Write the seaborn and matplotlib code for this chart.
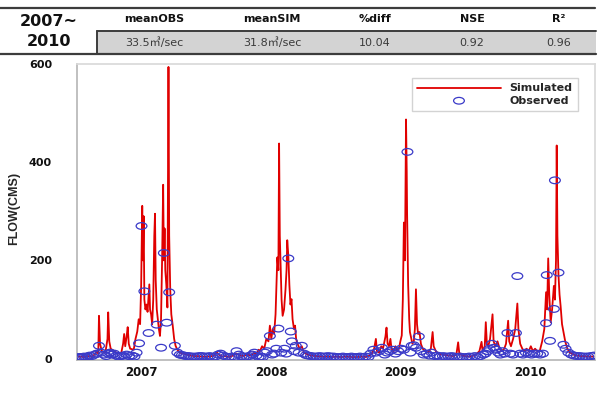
import numpy as np
import pandas as pd
import matplotlib
matplotlib.use("Agg")
import matplotlib.pyplot as plt
import seaborn as sns
from matplotlib.path import Path
from matplotlib.transforms import Affine2D
from matplotlib.lines import Line2D
from matplotlib.patches import Rectangle

# ---- header table ----
period_lines = ["2007~", "2010"]
stat_names = ["meanOBS", "meanSIM", "%diff", "NSE", "R²"]
stat_values = ["33.5㎥/sec", "31.8㎥/sec", "10.04", "0.92", "0.96"]

# ---- x axis (day index from 1 Jan 2007) ----
year_labels = ["2007", "2008", "2009", "2010"]
year_starts = [0, 365, 731, 1096, 1461]

# ---- simulated flow (CMS) ----
sim_day = [
    0, 10, 20, 30, 40, 50, 55, 60, 62, 65, 70, 80, 86, 88, 91, 95, 105, 115, 125, 130,
    133, 136, 140, 143, 146, 150, 160, 165, 170, 174, 178, 181, 184, 186, 188, 190, 193, 196, 199, 202,
    204, 206, 209, 212, 215, 218, 220, 222, 225, 228, 231, 234, 237, 240, 243, 245, 247, 249, 252, 255,
    258, 260, 263, 266, 270, 274, 278, 283, 290, 300, 310, 320, 330, 340, 350, 365,
    375, 385, 395, 400, 410, 420, 430, 440, 450, 460, 470, 480, 490, 500, 506, 512, 516, 522, 528, 534,
    540, 544, 548, 552, 556, 560, 563, 565, 568, 570, 572, 574, 577, 580, 584, 588, 591, 593, 596, 599,
    602, 605, 608, 612, 615, 618, 622, 628, 634, 640, 650, 660, 675, 690, 705, 720, 731,
    745, 760, 775, 790, 805, 815, 825, 832, 838, 843, 846, 852, 858, 863, 870, 873, 876, 880, 884, 887,
    893, 898, 903, 908, 912, 916, 919, 922, 925, 928, 930, 931, 934, 937, 939, 943, 946, 950, 953, 956,
    959, 962, 966, 970, 975, 982, 990, 998, 1003, 1006, 1012, 1020, 1030, 1040, 1050, 1060, 1070, 1075, 1078, 1085,
    1096, 1105, 1115, 1125, 1135, 1141, 1144, 1150, 1153, 1156, 1160, 1165, 1172, 1175, 1180, 1186, 1192, 1198, 1205, 1210,
    1216, 1219, 1224, 1230, 1236, 1242, 1245, 1250, 1256, 1262, 1268, 1274, 1280, 1286, 1292, 1298, 1305, 1312, 1318, 1323,
    1326, 1329, 1332, 1336, 1340, 1345, 1348, 1351, 1353, 1355, 1358, 1361, 1364, 1368, 1372, 1377, 1383, 1390, 1400, 1410,
    1420, 1430, 1440, 1450, 1461,
]
sim_flow = [
    4, 4, 3, 5, 4, 8, 15, 10, 87, 30, 15, 12, 40, 94, 35, 20, 15, 10, 12, 30,
    50, 25, 45, 64, 30, 20, 18, 40, 55, 80, 70, 150, 311, 200, 290, 120, 100, 110, 95, 130,
    151, 100, 90, 70, 120, 250, 295, 160, 100, 80, 60, 46, 80, 200, 354, 200, 265, 180, 150, 104,
    594, 250, 140, 90, 67, 40, 26, 18, 12, 10, 8, 6, 5, 5, 4, 4,
    4, 6, 12, 8, 4, 5, 3, 6, 10, 6, 5, 8, 6, 12, 8, 18, 15, 25, 20, 40,
    35, 67, 40, 60, 50, 90, 160, 206, 180, 438, 250, 200, 120, 87, 100, 140, 180, 241, 210, 150,
    110, 121, 80, 60, 67, 40, 30, 20, 25, 12, 8, 6, 5, 4, 4, 3, 4,
    3, 4, 3, 3, 4, 3, 6, 10, 20, 40, 15, 12, 25, 20, 45, 63, 30, 25, 40, 20,
    15, 25, 15, 20, 35, 47, 120, 277, 200, 487, 380, 297, 150, 80, 54, 40, 30, 35, 60, 141,
    70, 50, 54, 30, 20, 15, 12, 20, 54, 25, 15, 10, 8, 7, 6, 5, 8, 33, 12, 6,
    5, 4, 5, 8, 15, 34, 15, 25, 74, 30, 25, 40, 90, 35, 25, 35, 20, 15, 20, 30,
    77, 35, 25, 40, 60, 112, 60, 30, 20, 15, 20, 15, 25, 15, 20, 15, 15, 35, 60, 135,
    100, 204, 130, 74, 100, 148, 120, 200, 434, 250, 170, 130, 107, 70, 54, 35, 20, 12, 8, 6,
    5, 5, 4, 4, 4,
]

# ---- observed flow (CMS) ----
obs_day = [
    5, 10, 15, 20, 25, 30, 36, 42, 50, 56, 62, 68, 76, 82, 88, 93, 99, 105, 111, 117,
    123, 129, 135, 140, 147, 155, 162, 168, 175, 182, 190, 202, 225, 237, 245, 253, 260, 276, 283, 290,
    296, 302, 308, 315, 322, 330, 338, 345, 352, 360,
    368, 375, 382, 390, 398, 405, 412, 420, 428, 436, 444, 450, 457, 464, 470, 478, 486, 494, 500, 506,
    512, 518, 524, 530, 536, 544, 550, 556, 562, 568, 576, 585, 590, 596, 603, 606, 612, 617, 625, 634,
    640, 646, 652, 660, 668, 676, 684, 692, 700, 708, 716, 724,
    733, 742, 750, 758, 766, 774, 782, 790, 798, 806, 814, 822, 828, 836, 843, 852, 860, 868, 875, 882,
    890, 898, 906, 914, 922, 932, 940, 944, 950, 956, 964, 970, 978, 986, 994, 1000, 1008, 1016, 1024, 1032,
    1040, 1048, 1056, 1064, 1072, 1080, 1088,
    1098, 1106, 1114, 1122, 1130, 1138, 1146, 1152, 1158, 1164, 1170, 1176, 1182, 1188, 1194, 1200, 1206, 1214, 1222, 1230,
    1238, 1242, 1250, 1258, 1266, 1274, 1282, 1290, 1298, 1306, 1314, 1323, 1325, 1334, 1345, 1348, 1358, 1372, 1378, 1386,
    1394, 1402, 1410, 1418, 1426, 1434, 1442, 1450, 1458,
]
obs_flow = [
    3, 3, 3, 4, 3, 4, 6, 5, 8, 10, 26, 12, 8, 5, 10, 12, 8, 10, 6, 4,
    5, 6, 3, 8, 5, 6, 4, 12, 31, 270, 137, 52, 69, 22, 215, 73, 135, 26, 12, 8,
    7, 6, 5, 5, 4, 4, 4, 5, 5, 4,
    4, 5, 3, 4, 8, 10, 6, 4, 3, 4, 3, 15, 8, 5, 3, 4, 5, 8, 12, 6,
    3, 4, 3, 12, 15, 46, 8, 10, 20, 61, 12, 20, 10, 204, 55, 35, 15, 26, 12, 26,
    10, 7, 6, 5, 4, 4, 5, 4, 4, 5, 4, 4,
    3, 3, 4, 3, 3, 4, 3, 3, 4, 3, 4, 3, 10, 18, 12, 15, 22, 8, 12, 15,
    18, 10, 15, 20, 18, 421, 12, 26, 27, 22, 45, 15, 8, 10, 6, 12, 5, 6, 4, 5,
    4, 4, 5, 4, 3, 4, 3,
    3, 4, 3, 5, 3, 5, 8, 10, 15, 20, 30, 22, 18, 12, 8, 15, 10, 52, 10, 8,
    52, 168, 10, 8, 12, 10, 8, 10, 10, 8, 10, 72, 170, 36, 101, 363, 175, 28, 20, 12,
    8, 6, 5, 5, 4, 4, 4, 5, 6,
]

sim_df = pd.DataFrame({"day": sim_day, "flow": sim_flow})
obs_df = pd.DataFrame({"day": obs_day, "flow": obs_flow})

W, H = 600, 393


def fx(px):
    return px / W


def fy(py):
    return 1 - py / H


sns.set_theme(style="white")
plt.rcParams["font.family"] = ["DejaVu Sans", "Noto Sans CJK KR"]

fig = plt.figure(figsize=(6, 3.93), dpi=100)
ax = fig.add_axes([fx(77), fy(360), fx(595) - fx(77), fy(64) - fy(360)])

# ellipse marker (the source image is stretched horizontally)
ellipse = Path.unit_circle().transformed(Affine2D().scale(1.0, 0.62))

sns.lineplot(data=sim_df, x="day", y="flow", color="#e00000", linewidth=1.3,
             label="Simulated", ax=ax)
sns.scatterplot(data=obs_df, x="day", y="flow", marker=ellipse, s=60,
                facecolor="none", edgecolor="#3a3ac8", linewidth=0.9,
                label="Observed", ax=ax, zorder=3)

ax.set_xlim(year_starts[0], year_starts[-1])
ax.set_ylim(-3, 600)
ax.set_yticks([0, 200, 400, 600])
ax.set_yticklabels(["0", "200", "400", "600"], fontweight="bold", fontsize=8)
ax.tick_params(axis="y", length=13, width=1, color="#c8c8c8", pad=5, labelcolor="#111111")

ax.set_xticks(year_starts)
ax.set_xticklabels([])
ax.tick_params(axis="x", which="major", length=6, width=1, color="#b8b8b8", direction="out")
mids = [(a + b) / 2 for a, b in zip(year_starts[:-1], year_starts[1:])]
ax.set_xticks(mids, minor=True)
ax.set_xticklabels(year_labels, minor=True, fontweight="bold", fontsize=8.5)
ax.tick_params(axis="x", which="minor", length=0, pad=4, labelcolor="#111111")

ax.set_xlabel("")
ax.set_ylabel("")
fig.text(fx(14), fy(208), "FLOW(CMS)", rotation=90, ha="center", va="center",
         fontweight="bold", fontsize=9, family=["Liberation Sans"])

for side in ["left", "bottom"]:
    ax.spines[side].set_color("#b8b8b8")
for side in ["top", "right"]:
    ax.spines[side].set_color("#dadada")

leg = ax.legend(loc="upper right", bbox_to_anchor=(0.977, 0.97), frameon=True,
                fancybox=False, handlelength=7.5, handletextpad=0.8,
                borderpad=0.45, labelspacing=0.2, prop={"weight": "bold", "size": 8})
leg.get_frame().set_edgecolor("#c8c8c8")
leg.get_frame().set_linewidth(1.0)

# ---- header table ----
fig.add_artist(Rectangle((fx(97), fy(54)), fx(596) - fx(97), fy(31) - fy(54),
                         transform=fig.transFigure, facecolor="#d3d3d3", edgecolor="none"))
fig.add_artist(Line2D([fx(0), fx(595)], [fy(7.5), fy(7.5)], transform=fig.transFigure,
                      color="#3c3c3c", linewidth=1.6))
fig.add_artist(Line2D([fx(97), fx(596)], [fy(31), fy(31)], transform=fig.transFigure,
                      color="#3c3c3c", linewidth=1.4))
fig.add_artist(Line2D([fx(97), fx(97)], [fy(31), fy(54)], transform=fig.transFigure,
                      color="#3c3c3c", linewidth=1.4))
fig.add_artist(Line2D([fx(0), fx(596)], [fy(54), fy(54)], transform=fig.transFigure,
                      color="#3c3c3c", linewidth=1.6))

fig.text(fx(49), fy(21), period_lines[0], ha="center", va="center",
         fontsize=11.5, fontweight="bold", color="#111111")
fig.text(fx(49), fy(41), period_lines[1], ha="center", va="center",
         fontsize=11.5, fontweight="bold", color="#111111")

col_x = [154, 272, 375, 472, 559]
for cx, name, val in zip(col_x, stat_names, stat_values):
    fig.text(fx(cx), fy(19), name, ha="center", va="center", fontsize=8,
             fontweight="bold", color="#111111", family=["DejaVu Sans", "Noto Sans CJK KR"])
    fig.text(fx(cx), fy(43), val, ha="center", va="center", fontsize=8,
             color="#3a3a3a", family=["DejaVu Sans", "Noto Sans CJK KR"])

fig.savefig("out.png", dpi=100)
